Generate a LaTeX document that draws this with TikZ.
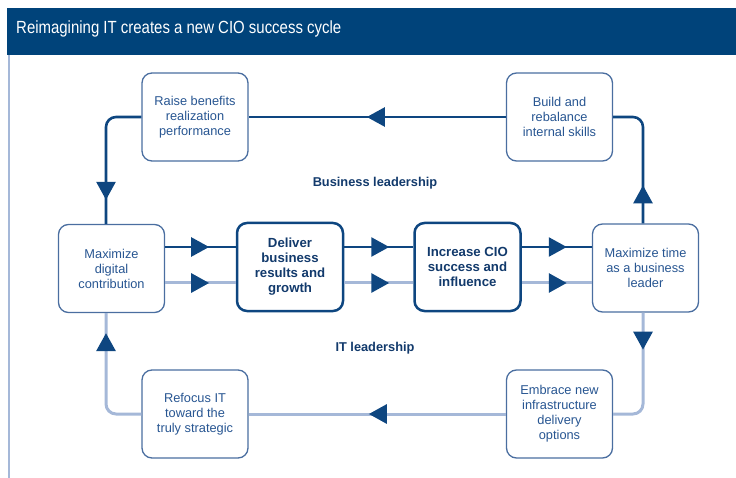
\documentclass[tikz,border=0pt]{standalone}
\usepackage{fontspec}
\setmainfont{Liberation Sans}
\newfontfamily\headfont[FakeStretch=0.85]{Liberation Sans}
\usetikzlibrary{arrows.meta,decorations.markings}
\definecolor{cioblue}{RGB}{0,67,122}
\definecolor{cioline}{RGB}{14,70,128}
\definecolor{ciolight}{RGB}{165,184,216}
\definecolor{cioedge}{RGB}{74,110,160}
\definecolor{ciotext}{RGB}{40,86,146}
\definecolor{ciodark}{RGB}{18,58,108}
\tikzset{box/.style={draw=cioedge,line width=1.3pt,rounded corners=10pt,fill=white,minimum width=106pt,minimum height=88pt,align=center,inner sep=0pt,text=ciotext,font=\fontsize{12.8}{15}\selectfont}}
\tikzset{hub/.style={box,draw=cioline,line width=2.5pt,text=ciodark,font=\bfseries\fontsize{13.2}{15}\selectfont}}
\tikzset{biz/.style={draw=cioline,line width=2.6pt,rounded corners=10pt}}
\tikzset{it/.style={draw=ciolight,line width=3pt,rounded corners=10pt}}
\tikzset{arr/.style={postaction={decorate},decoration={markings,mark=at position #1 with {\arrow[color=cioline,fill=cioline]{Triangle[length=18pt,width=19pt]}}}}}
\tikzset{lbl/.style={font=\bfseries\fontsize{12.8}{15}\selectfont,text=ciodark,inner sep=0pt}}

\begin{document}
\begin{tikzpicture}[x=1pt,y=-1pt]
\useasboundingbox (0,0) rectangle (736,478);
\fill[cioblue] (7,8) rectangle (736,55);
\draw[ciolight,line width=2pt] (9,55) -- (9,478);
\node[anchor=base west,inner sep=0pt,text=white,font=\headfont\fontsize{17.6}{20}\selectfont](title) at (16,33.5) {Reimagining IT creates a new CIO success cycle};

\node[box](raise) at (195,117) {Raise benefits\\realization\\performance};
\node[box](build) at (559.5,117) {Build and\\rebalance\\internal skills};
\node[box](digital) at (111.5,268.5) {Maximize\\digital\\contribution};
\node[hub](deliver) at (290,267) {Deliver\\business\\results and\\growth};
\node[hub](increase) at (467.5,267) {Increase CIO\\success and\\influence};
\node[box](time) at (645.5,268) {Maximize time\\as a business\\leader};
\node[box](refocus) at (195,414) {Refocus IT\\toward the\\truly strategic};
\node[box](embrace) at (559.5,414) {Embrace new\\infrastructure\\delivery\\options};

\node[lbl](bizlbl) at (375,183) {Business leadership};
\node[lbl](itlbl) at (375,348) {IT leadership};

\coordinate (hi) at (0,247);
\coordinate (lo) at (0,283);
\coordinate (lx) at (106,0);
\coordinate (rx) at (643,0);

\draw[it,arr=44pt] (digital.east |- lo) -- (deliver.west |- lo);
\draw[it,arr=45pt] (deliver.east |- lo) -- (increase.west |- lo);
\draw[it,arr=45pt] (increase.east |- lo) -- (time.west |- lo);
\draw[it,arr=37pt] (time.south -| rx) |- (embrace.east);
\draw[it,arr=137pt] (embrace.west) -- (refocus.east);
\draw[it,arr=-20pt] (refocus.west) -| (digital.south -| lx);

\draw[biz,arr=44pt] (digital.east |- hi) -- (deliver.west |- hi);
\draw[biz,arr=45pt] (deliver.east |- hi) -- (increase.west |- hi);
\draw[biz,arr=45pt] (increase.east |- hi) -- (time.west |- hi);
\draw[biz,arr=38pt] (time.north -| rx) |- (build.east);
\draw[biz,arr=139pt] (build.west) -- (raise.east);
\draw[biz,arr=-24pt] (raise.west) -| (digital.north -| lx);

\end{tikzpicture}
\end{document}
